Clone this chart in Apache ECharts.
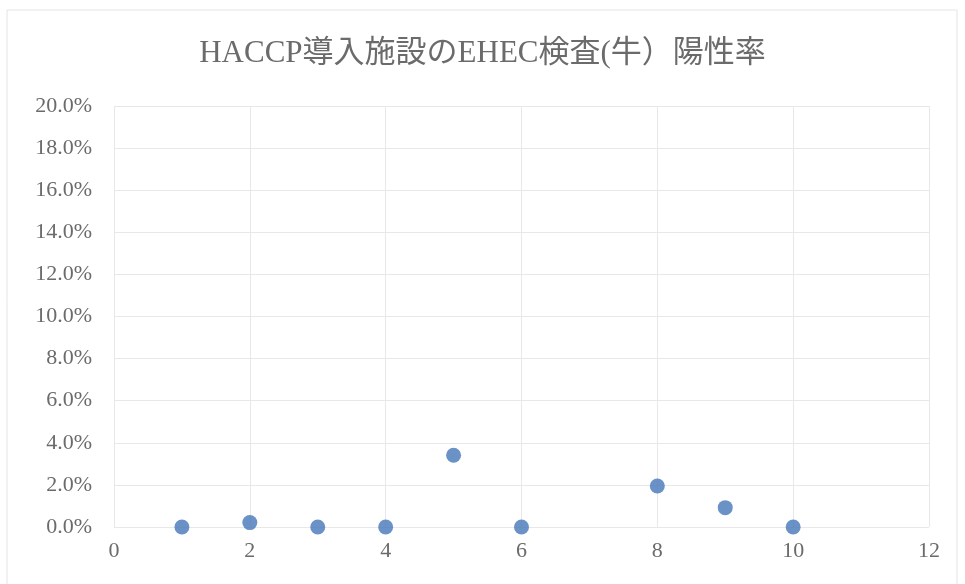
<!DOCTYPE html>
<html>
<head>
<meta charset="utf-8">
<script src="https://cdn.jsdelivr.net/npm/echarts@6/dist/echarts.min.js"></script>
<style>
  html, body { margin: 0; padding: 0; background: #ffffff; }
  #chart { width: 965px; height: 584px; }
</style>
</head>
<body>
<div id="chart"></div>
<script>
// Facility number and positive rate (%) of EHEC tests on cattle
const facilities = [1, 2, 3, 4, 5, 6, 8, 9, 10];
const positiveRates = [0, 0.21, 0, 0, 3.41, 0, 1.95, 0.92, 0];
const titleText = 'HACCP導入施設のEHEC検査(牛）陽性率';

const points = facilities.map((f, i) => [f, positiveRates[i]]);
const fontFamily = '"Liberation Serif", "DejaVu Serif", "Noto Sans CJK JP", serif';

const chart = echarts.init(document.getElementById('chart'));
chart.setOption({
  backgroundColor: '#ffffff',
  animation: false,
  title: {
    text: titleText,
    left: 'center',
    top: 33,
    textStyle: { fontFamily, fontSize: 31, fontWeight: 'normal', color: '#6b6b6b' }
  },
  graphic: [{
    type: 'rect',
    shape: { x: 7, y: 10, width: 950, height: 580 },
    style: { fill: 'none', stroke: '#e4e4e4', lineWidth: 1 },
    silent: true
  }],
  grid: { left: 114, right: 36, top: 106, bottom: 57 },
  xAxis: {
    type: 'value',
    min: 0, max: 12, interval: 2,
    axisLine: { show: false },
    axisTick: { show: false },
    axisLabel: { fontFamily, fontSize: 22, color: '#6b6b6b', margin: 13 },
    splitLine: { show: true, lineStyle: { color: '#e8e8e8', width: 1 } }
  },
  yAxis: {
    type: 'value',
    min: 0, max: 20, interval: 2,
    axisLine: { show: false },
    axisTick: { show: false },
    axisLabel: {
      fontFamily, fontSize: 22, color: '#6b6b6b', margin: 22,
      formatter: v => v.toFixed(1) + '%'
    },
    splitLine: { show: true, lineStyle: { color: '#e8e8e8', width: 1 } }
  },
  series: [{
    type: 'scatter',
    data: points,
    symbol: 'circle',
    symbolSize: 15,
    itemStyle: { color: '#4677b8' }
  }]
});
</script>
</body>
</html>
